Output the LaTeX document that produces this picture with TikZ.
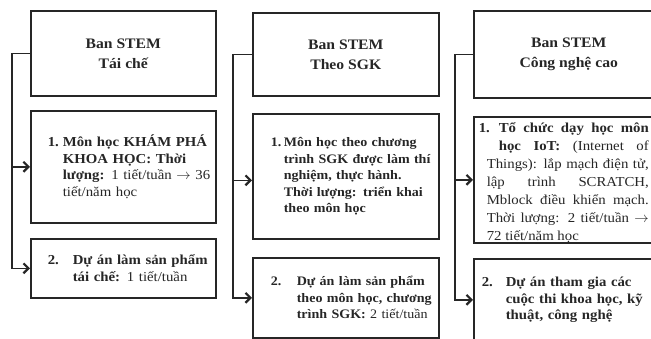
\documentclass[tikz,border=0pt]{standalone}
\usepackage{fontspec}
\setmainfont{Liberation Serif}[FakeStretch=1.08]
\usetikzlibrary{arrows.meta}

% numbered entry with hanging text
\newcommand{\numitem}[3]{\hangindent=#2\hangafter=1\noindent\makebox[#2][l]{\textbf{#1}}#3\par}

\begin{document}
\begin{tikzpicture}[x=1pt, y=-1pt, line width=1.6pt, color=black!85,
  head/.style={draw, anchor=north west, align=center, inner sep=0pt,
    font=\bfseries\fontsize{14.5}{20}\selectfont},
  box/.style={draw, anchor=north west, align=left, inner xsep=5pt, inner ysep=0pt,
    font=\fontsize{13.7}{16.5}\selectfont},
  link/.style={-{Straight Barb[length=5pt,width=10pt,line width=2.2pt]}}]
  \useasboundingbox (0,0) rectangle (651,338);
  \clip (0,0) rectangle (651,338);

  % Tai che
  \node[head, minimum width=185pt, minimum height=85pt] (t1) at (30,10) {Ban STEM\\Tái chế};
  \node[box, minimum width=185pt, minimum height=112pt, text width=175pt] (a1) at (30,110)
    {\leftskip=12pt\numitem{1.}{15pt}{\textbf{Môn học KHÁM PHÁ\newline KHOA HỌC: Thời\newline lượng:} 1 tiết/tuần $\rightarrow$ 36\newline tiết/năm học}};
  \node[box, minimum width=185pt, minimum height=59pt, text width=175pt] (b1) at (30,238)
    {\leftskip=12pt\numitem{2.}{25pt}{\textbf{Dự án làm sản phẩm\newline tái chế:} 1 tiết/tuần}};
  \draw[link] (t1.west) -- ++(-18,0) |- (a1.west);
  \draw[link] (t1.west) -- ++(-18,0) |- (b1.west);

  % Theo SGK
  \node[head, minimum width=186pt, minimum height=83pt] (t2) at (252,12) {Ban STEM\\Theo SGK};
  \node[box, minimum width=186pt, minimum height=125pt, text width=176pt,
    font=\fontsize{13}{16.5}\selectfont] (a2) at (252,113)
    {\leftskip=13pt\rightskip=-20pt plus 1fil\numitem{1.}{13pt}{\textbf{Môn học theo chương\newline trình SGK được làm thí\newline nghiệm, thực hành.\newline Thời lượng: triển khai\newline theo môn học}}};
  \node[box, minimum width=186pt, minimum height=80pt, text width=176pt,
    font=\fontsize{13}{16.5}\selectfont] (b2) at (252,257)
    {\leftskip=13pt\rightskip=-20pt plus 1fil\numitem{2.}{26pt}{\textbf{Dự án làm sản phẩm\newline theo môn học, chương\newline trình SGK:} 2 tiết/tuần}};
  \draw[link] (t2.west) -- ++(-19,0) |- ([yshift=-4pt]a2.west);
  \draw[link] (t2.west) -- ++(-19,0) |- (b2.west);

  % Cong nghe cao
  \node[head, minimum width=190pt, minimum height=87pt] (t3) at (473,10) {Ban STEM\\Công nghệ cao};
  \node[box, minimum width=190pt, minimum height=126pt, text width=184pt, inner xsep=3pt,
    align=justify, font=\fontsize{13.7}{18}\selectfont] (a3) at (473,116)
    {\parshape 3 2pt 170pt 22pt 150pt 10pt 162pt
     \noindent\makebox[20pt][l]{\textbf{1.}\rule{0pt}{15pt}}\textbf{Tổ chức dạy học môn\linebreak
     học IoT:} (Internet of\linebreak Things): lắp mạch điện tử,\linebreak lập trình SCRATCH,\linebreak
     Mblock điều khiển mạch.\linebreak Thời lượng: 2 tiết/tuần $\rightarrow$\linebreak 72 tiết/năm học\par};
  \node[box, minimum width=190pt, minimum height=82pt, text width=184pt, inner xsep=3pt] (b3) at (473,258)
    {\leftskip=5pt\numitem{2.}{24pt}{\textbf{Dự án tham gia các\newline cuộc thi khoa học, kỹ\newline thuật, công nghệ}}};
  \draw[link] (t3.west) -- ++(-18,0) |- (a3.west);
  \draw[link] (t3.west) -- ++(-18,0) |- (b3.west);
\end{tikzpicture}
\end{document}
